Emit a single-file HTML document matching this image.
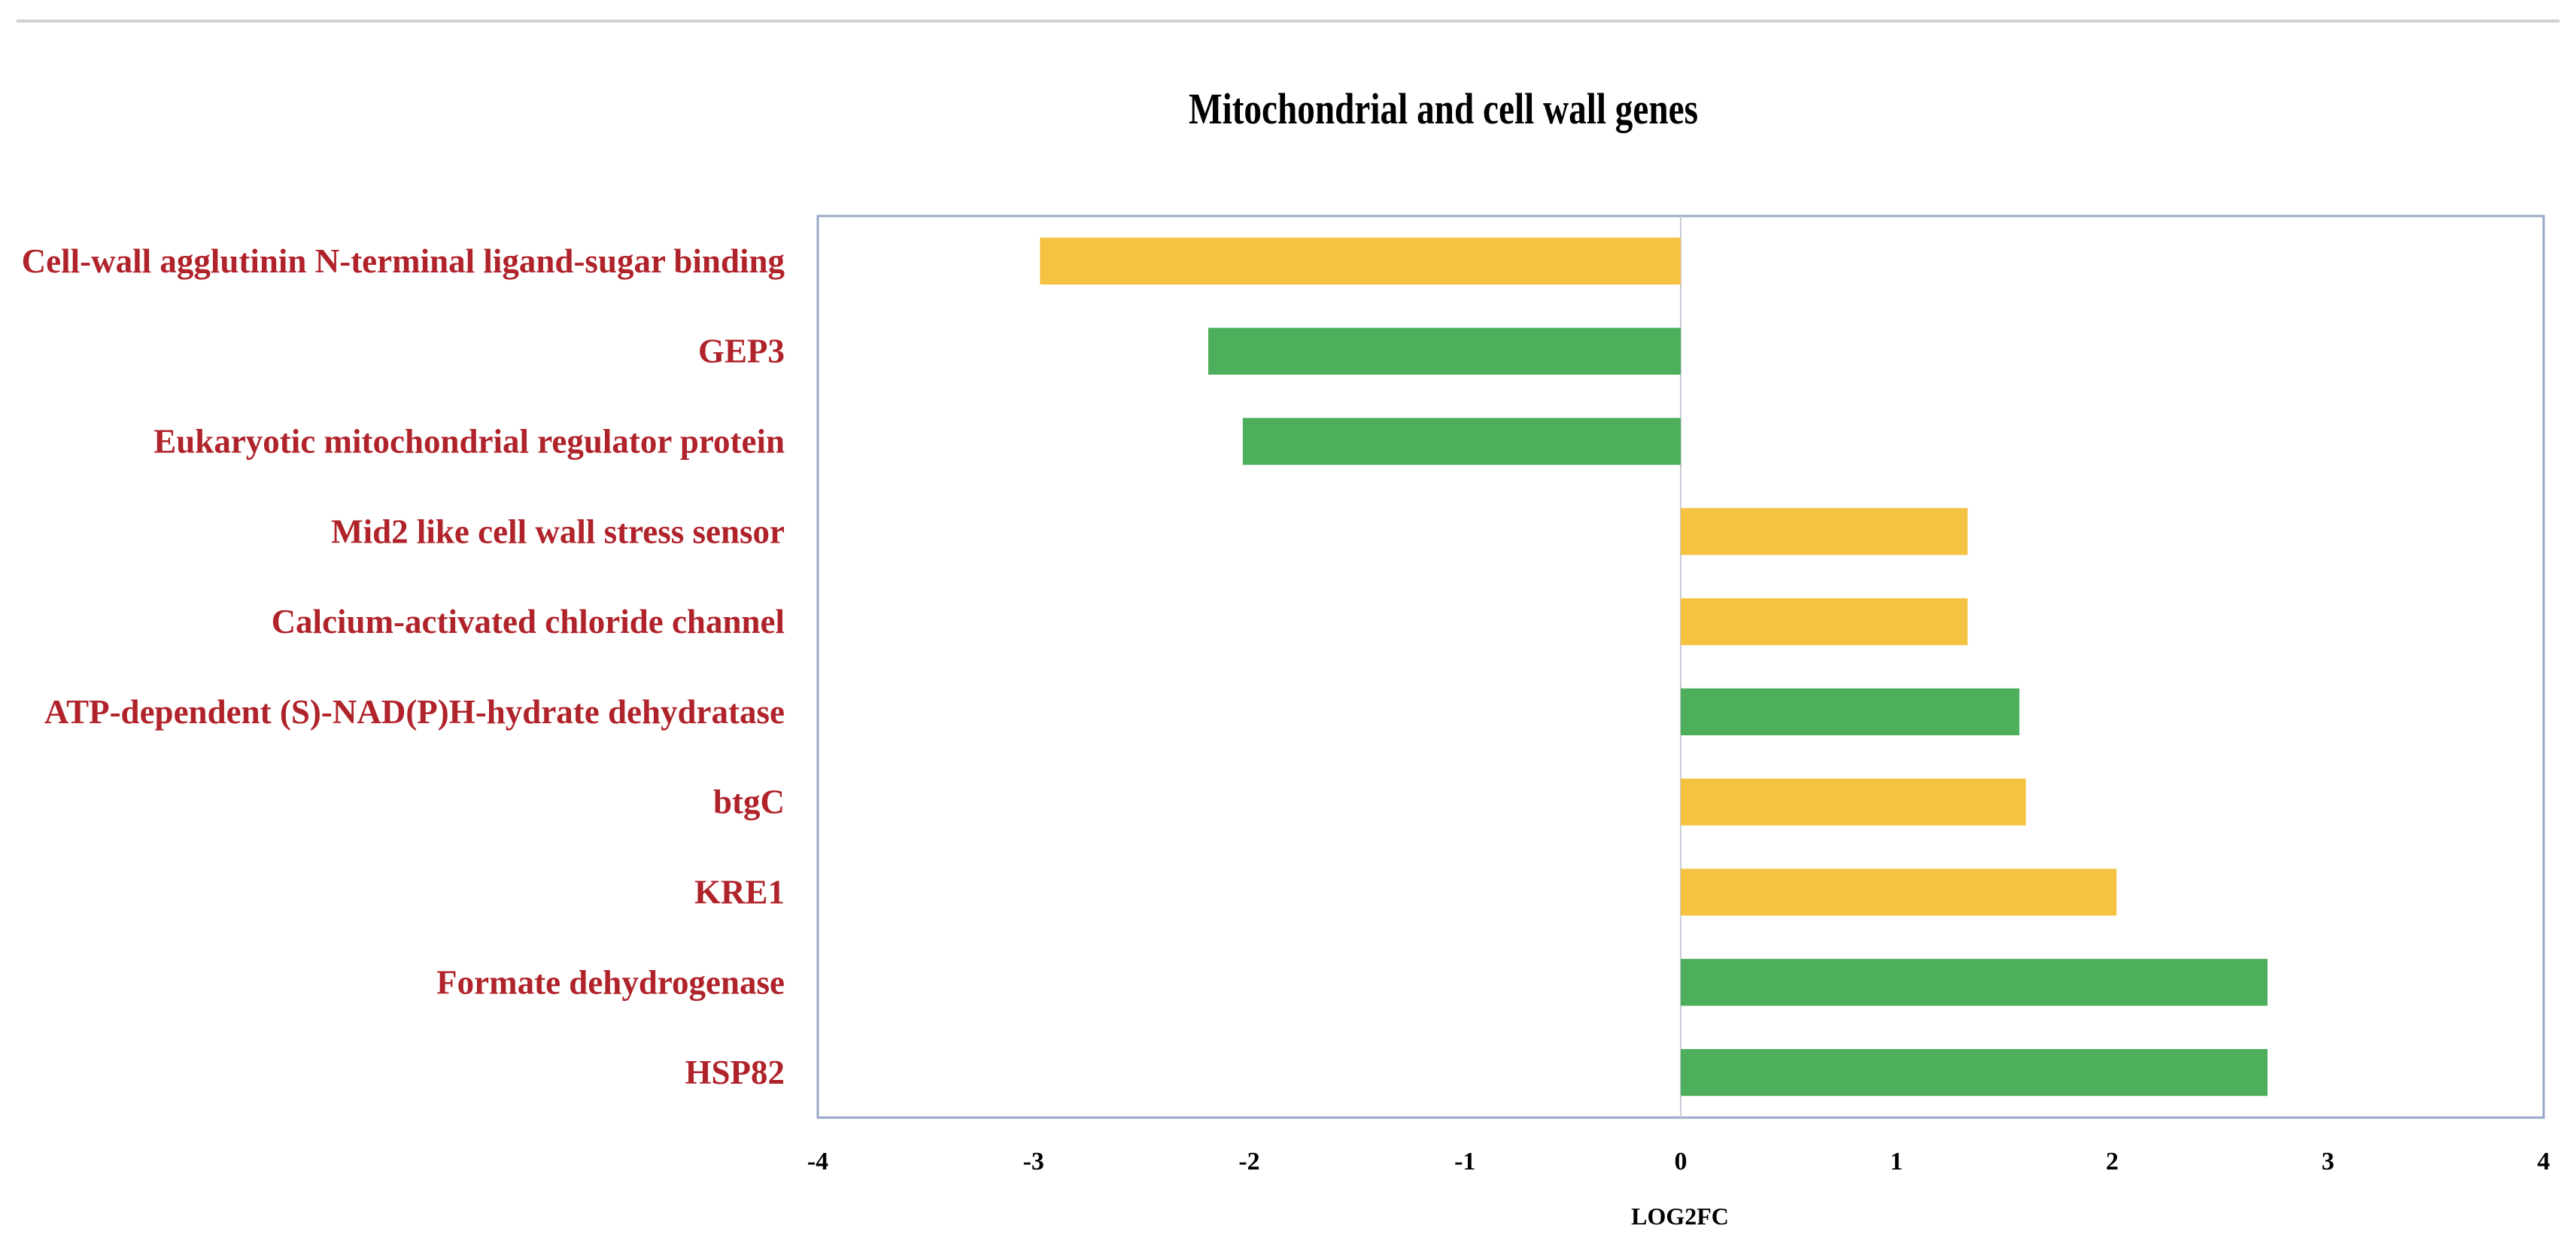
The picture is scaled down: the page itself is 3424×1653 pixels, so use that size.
<!DOCTYPE html>
<html><head><meta charset="utf-8"><style>
html,body{margin:0;padding:0;background:#fff;}
svg{display:block;}
</style></head>
<body>
<svg id="chart" width="3424" height="1653" viewBox="0 0 3424 1653" xmlns="http://www.w3.org/2000/svg">
  <line x1="22" y1="28" x2="3402" y2="28" stroke="#cfcfd4" stroke-width="4"/>
  <text x="1580" y="164" font-family="Liberation Serif, serif" font-weight="bold" font-size="58" textLength="677" lengthAdjust="spacingAndGlyphs" fill="#000">Mitochondrial and cell wall  genes</text>
  <rect x="1087" y="287" width="2294" height="1198" fill="#fff" stroke="#9aa8c8" stroke-width="3"/>
  <g id="bars"></g>
  <g id="labels"></g>
  <g id="ticks"></g>
  <text x="2233" y="1627" text-anchor="middle" font-family="Liberation Serif, serif" font-weight="bold" font-size="32" fill="#000">LOG2FC</text>
</svg>
<script>
const categories = ["Cell-wall agglutinin N-terminal ligand-sugar binding","GEP3","Eukaryotic mitochondrial regulator protein","Mid2 like cell wall stress sensor","Calcium-activated chloride channel","ATP-dependent (S)-NAD(P)H-hydrate dehydratase","btgC","KRE1","Formate dehydrogenase","HSP82"];
const values = [-2.97,-2.19,-2.03,1.33,1.33,1.57,1.60,2.02,2.72,2.72];
const barColors = ["#f5c242","#4dae5b","#4dae5b","#f5c242","#f5c242","#4dae5b","#f5c242","#f5c242","#4dae5b","#4dae5b"];
const tickValues = [-4,-3,-2,-1,0,1,2,3,4];
const tickLabels = ["-4","-3","-2","-1","0","1","2","3","4"];

const NS="http://www.w3.org/2000/svg";
const plotL=1087, plotR=3381, plotT=287, plotB=1485;
const xMin=-4, xMax=4;
function xs(v){return plotL+(v-xMin)/(xMax-xMin)*(plotR-plotL);}
const band=(plotB-plotT)/categories.length;
function yc(i){return plotT+band*(i+0.5);}
const barH=band*0.52;

const bars=document.getElementById('bars');
const zl=document.createElementNS(NS,'line');
zl.setAttribute('x1',xs(0));zl.setAttribute('x2',xs(0));
zl.setAttribute('y1',plotT);zl.setAttribute('y2',plotB);
zl.setAttribute('stroke','#c8ccd8');zl.setAttribute('stroke-width','2');


bars.appendChild(zl);

categories.forEach((c,i)=>{
  const v=values[i];
  const r=document.createElementNS(NS,'rect');
  const x0=Math.min(xs(0),xs(v)), x1=Math.max(xs(0),xs(v));
  r.setAttribute('x',x0);r.setAttribute('width',x1-x0);
  r.setAttribute('y',yc(i)-barH/2);r.setAttribute('height',barH);
  r.setAttribute('fill',barColors[i]);
  
  
  bars.appendChild(r);
  const t=document.createElementNS(NS,'text');
  t.setAttribute('x',1043);t.setAttribute('y',yc(i)+15);
  t.setAttribute('text-anchor','end');
  t.setAttribute('font-family','Liberation Serif, serif');
  t.setAttribute('font-weight','bold');
  t.setAttribute('font-size','45');
  t.setAttribute('fill','#b0232a');
  t.textContent=c;
  
  
  document.getElementById('labels').appendChild(t);
});

tickValues.forEach((v,i)=>{
  const t=document.createElementNS(NS,'text');
  t.setAttribute('x',xs(v));t.setAttribute('y',1554);
  t.setAttribute('text-anchor','middle');
  t.setAttribute('font-family','Liberation Serif, serif');
  t.setAttribute('font-weight','bold');
  t.setAttribute('font-size','34');
  t.setAttribute('fill','#000');
  t.textContent=tickLabels[i];
  
  
  document.getElementById('ticks').appendChild(t);
});
</script>
</body></html>
